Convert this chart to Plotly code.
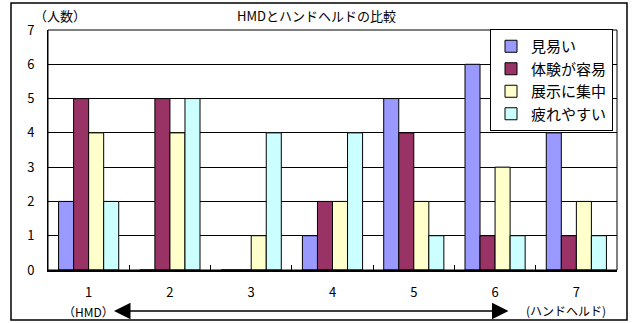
import plotly.graph_objects as go

categories = ["1", "2", "3", "4", "5", "6", "7"]
series_names = ["見易い", "体験が容易", "展示に集中", "疲れやすい"]
mieyasui = [2, 0, 0, 1, 5, 6, 4]
taiken = [5, 5, 0, 2, 4, 1, 1]
tenji = [4, 4, 1, 2, 2, 3, 2]
tsukare = [2, 5, 4, 4, 1, 1, 1]
colors = ["#9999FF", "#993366", "#FFFFCC", "#CCFFFF"]
y_ticks = [0, 1, 2, 3, 4, 5, 6, 7]

FONT = "Noto Sans CJK JP"
W, H = 632, 323
L, R, T, B = 48, 15, 30, 53
pw, ph = W - L - R, H - T - B

def px(x):
    return (x - L) / pw

def py(y):
    return (H - B - y) / ph

fig = go.Figure()
for name, vals, c in zip(series_names, [mieyasui, taiken, tenji, tsukare], colors):
    fig.add_trace(go.Bar(x=categories, y=vals, name=name,
                         marker=dict(color=c, line=dict(color="black", width=1))))

fig.update_layout(
    width=W, height=H,
    margin=dict(l=L, r=R, t=T, b=B),
    paper_bgcolor="white", plot_bgcolor="white",
    barmode="group", bargap=0.26, bargroupgap=0,
    font=dict(family=FONT, size=13, color="black"),
    showlegend=True,
    legend=dict(x=px(490), y=py(29), xanchor="left", yanchor="top",
                bordercolor="black", borderwidth=1, bgcolor="white",
                font=dict(size=15, family=FONT), tracegroupgap=0,
                itemwidth=30),
    xaxis=dict(type="category", showgrid=False, showline=True, linecolor="black", linewidth=2,
               ticks="inside", ticklen=5, tickcolor="black", tickson="boundaries",
               ticklabelstandoff=9, tickfont=dict(size=13)),
    yaxis=dict(range=[0, 7], tickvals=y_ticks, showgrid=True, gridcolor="black", gridwidth=1,
               showline=True, linecolor="black", linewidth=1, ticks="", zeroline=False,
               tickfont=dict(size=13), ticklabelstandoff=10),
)

shapes = [
    dict(type="rect", xref="paper", yref="paper", x0=0, x1=1, y0=0, y1=1,
         line=dict(color="black", width=1)),
    dict(type="rect", xref="paper", yref="paper", x0=px(11), x1=px(627), y0=py(320), y1=py(3),
         line=dict(color="black", width=1.5)),
]
fig.update_layout(shapes=shapes)

def label(text, x, y, size=13):
    return dict(text=text, x=px(x), y=py(y), xref="paper", yref="paper",
                xanchor="center", yanchor="middle",
                showarrow=False, font=dict(size=size, family=FONT))

ann = [
    label("HMDとハンドヘルドの比較", 316, 16),
    label("（人数）", 60, 16),
    label("（HMD）", 88, 311, 12),
    label("(ハンドヘルド)", 566, 310, 12),
    dict(text="", x=px(114), y=py(311), xref="paper", yref="paper",
         showarrow=True, ax=396, ay=0, axref="pixel", ayref="pixel",
         arrowhead=2, startarrowhead=2, arrowside="end+start",
         arrowsize=2.2, startarrowsize=2.2, arrowwidth=1.5, arrowcolor="black"),
]
fig.update_layout(annotations=ann)

fig.write_html("out.html")
